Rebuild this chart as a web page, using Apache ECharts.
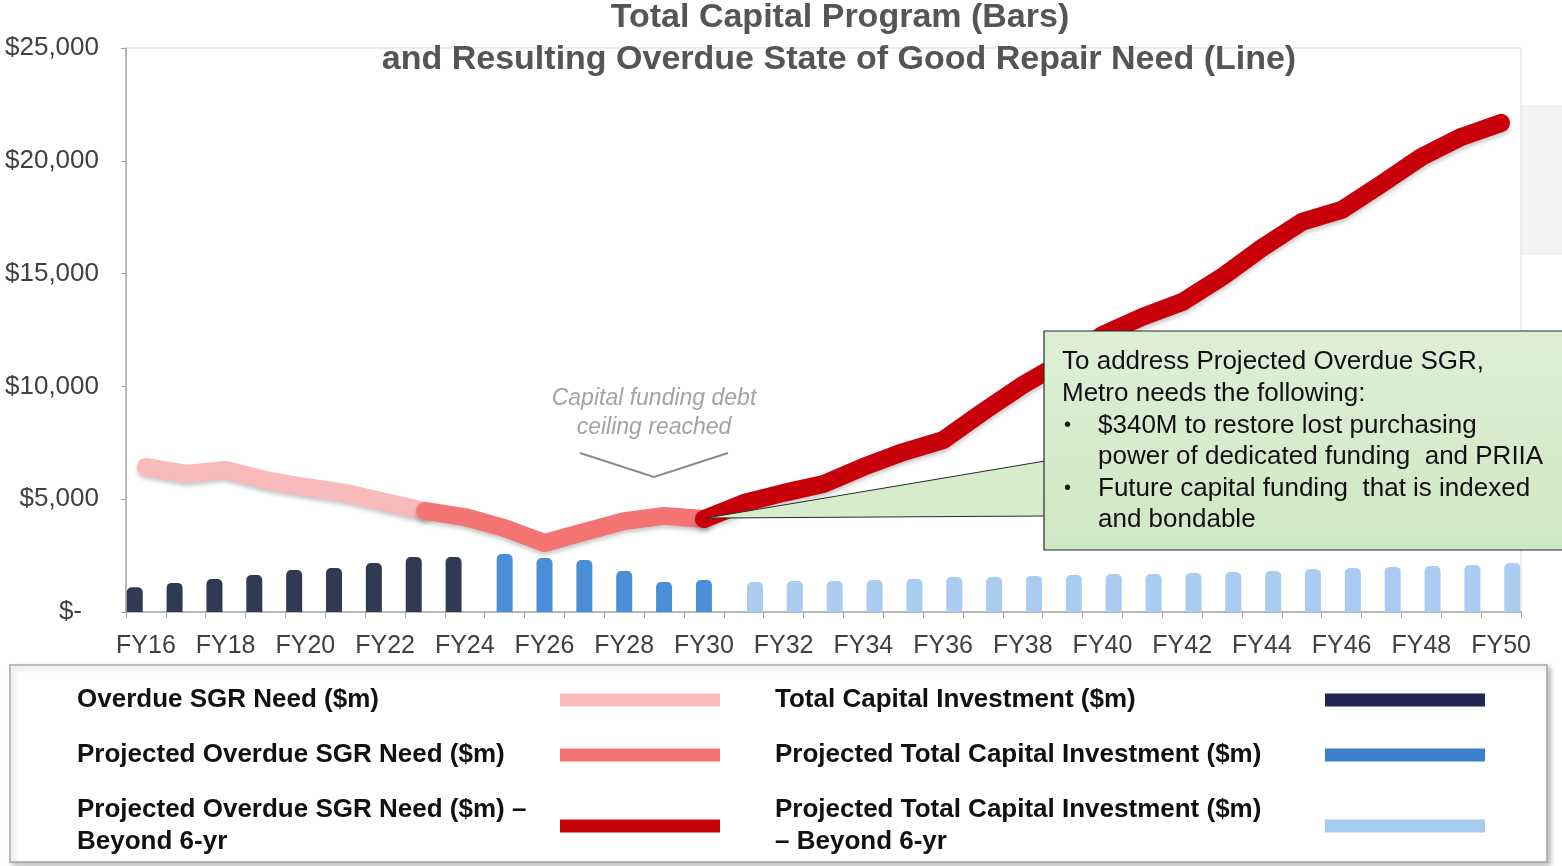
<!DOCTYPE html>
<html>
<head>
<meta charset="utf-8">
<script src="https://cdn.jsdelivr.net/npm/echarts@6/dist/echarts.min.js"></script>
<style>html,body{margin:0;padding:0;background:#fff}#c{width:1562px;height:866px}</style>
</head>
<body>
<div id="c"></div>
<script>
// ---------- data ----------
const categories = ['FY16','FY17','FY18','FY19','FY20','FY21','FY22','FY23','FY24','FY25','FY26','FY27','FY28','FY29','FY30','FY31','FY32','FY33','FY34','FY35','FY36','FY37','FY38','FY39','FY40','FY41','FY42','FY43','FY44','FY45','FY46','FY47','FY48','FY49','FY50'];
const _ = null;
const totalCapital =          [1100,1290,1460,1640,1860,1950,2170,2440,2440,_,_,_,_,_,_,_,_,_,_,_,_,_,_,_,_,_,_,_,_,_,_,_,_,_,_];
const projectedCapital =      [_,_,_,_,_,_,_,_,_,2570,2390,2300,1820,1330,1420,_,_,_,_,_,_,_,_,_,_,_,_,_,_,_,_,_,_,_,_];
const projectedCapitalBeyond = [_,_,_,_,_,_,_,_,_,_,_,_,_,_,_,1330,1370,1370,1420,1460,1550,1550,1600,1640,1680,1680,1730,1770,1820,1900,1950,2000,2040,2080,2170];
const overdueSGR =            [6430,6120,6300,5850,5540,5280,4880,4480,_,_,_,_,_,_,_,_,_,_,_,_,_,_,_,_,_,_,_,_,_,_,_,_,_,_,_];
const projectedSGR =          [_,_,_,_,_,_,_,4480,4210,3720,3060,3550,4030,4260,4120,_,_,_,_,_,_,_,_,_,_,_,_,_,_,_,_,_,_,_,_];
const projectedSGRBeyond =    [_,_,_,_,_,_,_,_,_,_,_,_,_,_,4120,4830,5280,5670,6430,7090,7620,8870,10060,11080,12280,13080,13740,14850,16140,17290,17820,18970,20170,21060,21680];
const yTicks = [0,5000,10000,15000,20000,25000];

const titleLines = ['Total Capital Program (Bars)', 'and Resulting Overdue State of Good Repair Need (Line)'];
const noteLabel = ['Capital funding debt', 'ceiling reached'];
const calloutLines = ['To address Projected Overdue SGR,', 'Metro needs the following:'];
const calloutBullets = [['$340M to restore lost purchasing', 'power of dedicated funding  and PRIIA'], ['Future capital funding  that is indexed', 'and bondable']];
const calloutAnchor = 'FY30';

const names = {
  overdue: 'Overdue SGR Need ($m)',
  projected: 'Projected Overdue SGR Need ($m)',
  beyond: 'Projected Overdue SGR Need ($m) – Beyond 6-yr',
  total: 'Total Capital Investment ($m)',
  projTotal: 'Projected Total Capital Investment ($m)',
  beyondTotal: 'Projected Total Capital Investment ($m) – Beyond 6-yr'
};
const legendText = {};
legendText[names.overdue] = ['Overdue SGR Need ($m)'];
legendText[names.projected] = ['Projected Overdue SGR Need ($m)'];
legendText[names.beyond] = ['Projected Overdue SGR Need ($m) –', 'Beyond 6-yr'];
legendText[names.total] = ['Total Capital Investment ($m)'];
legendText[names.projTotal] = ['Projected Total Capital Investment ($m)'];
legendText[names.beyondTotal] = ['Projected Total Capital Investment ($m)', '– Beyond 6-yr'];

// ---------- styles ----------
const C = {
  pink: '#F8BABA', salmon: '#F47474', red: '#C8000A',
  navy: '#2F3B53', blue: '#4A8ED8', light: '#A9CCF0',
  navyL: '#1F2750', blueL: '#3D7FCB', lightL: '#A8CCF0'
};
const FONT = '"Liberation Sans", Arial, sans-serif';

const chart = echarts.init(document.getElementById('c'), null, {renderer: 'canvas'});

function lineSeries(name, data, color) {
  return {
    name, type: 'line', data, z: 5,
    showSymbol: false, symbol: 'none', connectNulls: false,
    itemStyle: {color},
    lineStyle: {color, width: 18, cap: 'round', join: 'round',
      shadowColor: 'rgba(0,0,0,0.22)', shadowBlur: 4, shadowOffsetY: 3},
    emphasis: {disabled: true}, animation: false
  };
}
function barSeries(name, data, color) {
  return {
    name, type: 'bar', data, barWidth: 16, barGap: '-30%',
    itemStyle: {color, borderRadius: [5,5,0,0]},
    emphasis: {disabled: true}, animation: false
  };
}
function legendCfg(left, textW, items) {
  return {
    left, top: 687, height: 260, orient: 'vertical', align: 'right', padding: 0,
    itemWidth: 160, itemHeight: 13, itemGap: 29, selectedMode: false,
    data: items.map(([name, color]) => ({name, icon: 'rect', itemStyle: {color, borderWidth: 0}})),
    formatter: n => legendText[n].map(l => '{t|' + l + '}').join('\n'),
    textStyle: {
      rich: {t: {width: textW, align: 'left', fontSize: 26, fontWeight: 'bold', lineHeight: 32, color: '#111', fontFamily: FONT}}
    }
  };
}

const option = {
  backgroundColor: '#fff',
  animation: false,
  textStyle: {fontFamily: FONT},
  grid: {left: 126, right: 41, top: 48, bottom: 254, show: true, borderColor: '#DADADA', borderWidth: 1, containLabel: false},
  xAxis: {
    type: 'category', data: categories, boundaryGap: true,
    axisLine: {lineStyle: {color: '#A6A6A6', width: 1.5}},
    axisTick: {show: true, interval: 0, length: 6, lineStyle: {color: '#A6A6A6'}},
    axisLabel: {interval: 1, margin: 22, fontSize: 25, color: '#404040', fontFamily: FONT}
  },
  yAxis: {
    type: 'value', min: yTicks[0], max: yTicks[yTicks.length-1], interval: yTicks[1]-yTicks[0],
    axisLine: {show: true, lineStyle: {color: '#A6A6A6', width: 1.5}},
    axisTick: {show: true, length: 5, lineStyle: {color: '#A6A6A6'}},
    splitLine: {show: false},
    axisLabel: {
      margin: 27, fontSize: 26, color: '#404040', fontFamily: FONT,
      formatter: v => v === 0 ? '{z|$-}' : '$' + v.toLocaleString('en-US'),
      rich: {z: {fontSize: 26, color: '#404040', padding: [0, 17, 0, 0], fontFamily: FONT}}
    }
  },
  legend: [
    legendCfg(77, 478, [[names.overdue, C.pink], [names.projected, C.salmon], [names.beyond, C.red]]),
    legendCfg(775, 545, [[names.total, C.navyL], [names.projTotal, C.blueL], [names.beyondTotal, C.lightL]])
  ],
  series: [
    barSeries(names.total, totalCapital, C.navy),
    barSeries(names.projTotal, projectedCapital, C.blue),
    barSeries(names.beyondTotal, projectedCapitalBeyond, C.light),
    lineSeries(names.overdue, overdueSGR, C.pink),
    lineSeries(names.projected, projectedSGR, C.salmon),
    lineSeries(names.beyond, projectedSGRBeyond, C.red)
  ]
};
chart.setOption(option);

// ---------- annotations ----------
const anchorIdx = categories.indexOf(calloutAnchor);
const tip = chart.convertToPixel({xAxisIndex: 0, yAxisIndex: 0}, [anchorIdx, projectedSGRBeyond[anchorIdx]]);
const box = {x: 1044, y: 331, w: 520, h: 219};
const TXT = {fontSize: 26, fill: '#111', fontFamily: FONT, verticalAlign: 'middle'};
const graphics = [
  // slide background bits
  {type: 'rect', shape: {x: 1522, y: 105, width: 40, height: 150}, style: {fill: '#F2F3F5'}, z: -10, silent: true},
  // legend frame
  {type: 'rect', shape: {x: 10, y: 665, width: 1537, height: 197}, style: {fill: '#fff', stroke: '#A6A6A6', lineWidth: 1.5,
    shadowColor: 'rgba(0,0,0,0.25)', shadowBlur: 5, shadowOffsetX: 3, shadowOffsetY: 3}, z: -5, silent: true},
  // title
  {type: 'text', x: 840, y: 18, style: {text: titleLines[0], fontSize: 34, fontWeight: 'bold', fill: '#555555', fontFamily: FONT, align: 'center', verticalAlign: 'middle'}, z: 50},
  {type: 'text', x: 839, y: 60, style: {text: titleLines[1], fontSize: 34, fontWeight: 'bold', fill: '#555555', fontFamily: FONT, align: 'center', verticalAlign: 'middle'}, z: 50},
  // debt ceiling note
  {type: 'text', x: 654, y: 399, style: {text: noteLabel[0], fontSize: 23, fontStyle: 'italic', fill: '#A3A3A3', fontFamily: FONT, align: 'center', verticalAlign: 'middle'}, z: 50},
  {type: 'text', x: 654, y: 428, style: {text: noteLabel[1], fontSize: 23, fontStyle: 'italic', fill: '#A3A3A3', fontFamily: FONT, align: 'center', verticalAlign: 'middle'}, z: 50},
  {type: 'polyline', shape: {points: [[580, 453], [654, 477], [728, 453]]}, style: {stroke: '#8C8C8C', lineWidth: 2, fill: null}, z: 50},
  // callout pointer
  {type: 'polygon', shape: {points: [[tip[0] + 2, tip[1] - 1], [box.x + 1, 461], [box.x + 1, 516]]},
    style: {fill: '#D6ECCD', stroke: '#2a2a2a', lineWidth: 1}, z: 60},
  // callout box
  {type: 'rect', shape: {x: box.x, y: box.y, width: box.w, height: box.h},
    style: {fill: new echarts.graphic.LinearGradient(0, 0, 0, 1, [{offset: 0, color: '#DDF0D6'}, {offset: 1, color: '#CFE8C4'}]), stroke: '#2a2a2a', lineWidth: 1.2}, z: 61},
  {type: 'text', x: 1062, y: 362, style: Object.assign({text: calloutLines[0]}, TXT), z: 62},
  {type: 'text', x: 1062, y: 394, style: Object.assign({text: calloutLines[1]}, TXT), z: 62},
  {type: 'text', x: 1064, y: 425, style: Object.assign({text: '•'}, TXT, {fontSize: 20}), z: 62},
  {type: 'text', x: 1098, y: 426, style: Object.assign({text: calloutBullets[0][0]}, TXT), z: 62},
  {type: 'text', x: 1098, y: 457, style: Object.assign({text: calloutBullets[0][1]}, TXT), z: 62},
  {type: 'text', x: 1064, y: 488, style: Object.assign({text: '•'}, TXT, {fontSize: 20}), z: 62},
  {type: 'text', x: 1098, y: 489, style: Object.assign({text: calloutBullets[1][0]}, TXT), z: 62},
  {type: 'text', x: 1098, y: 520, style: Object.assign({text: calloutBullets[1][1]}, TXT), z: 62}
];
chart.setOption({graphic: graphics});
</script>
</body>
</html>
